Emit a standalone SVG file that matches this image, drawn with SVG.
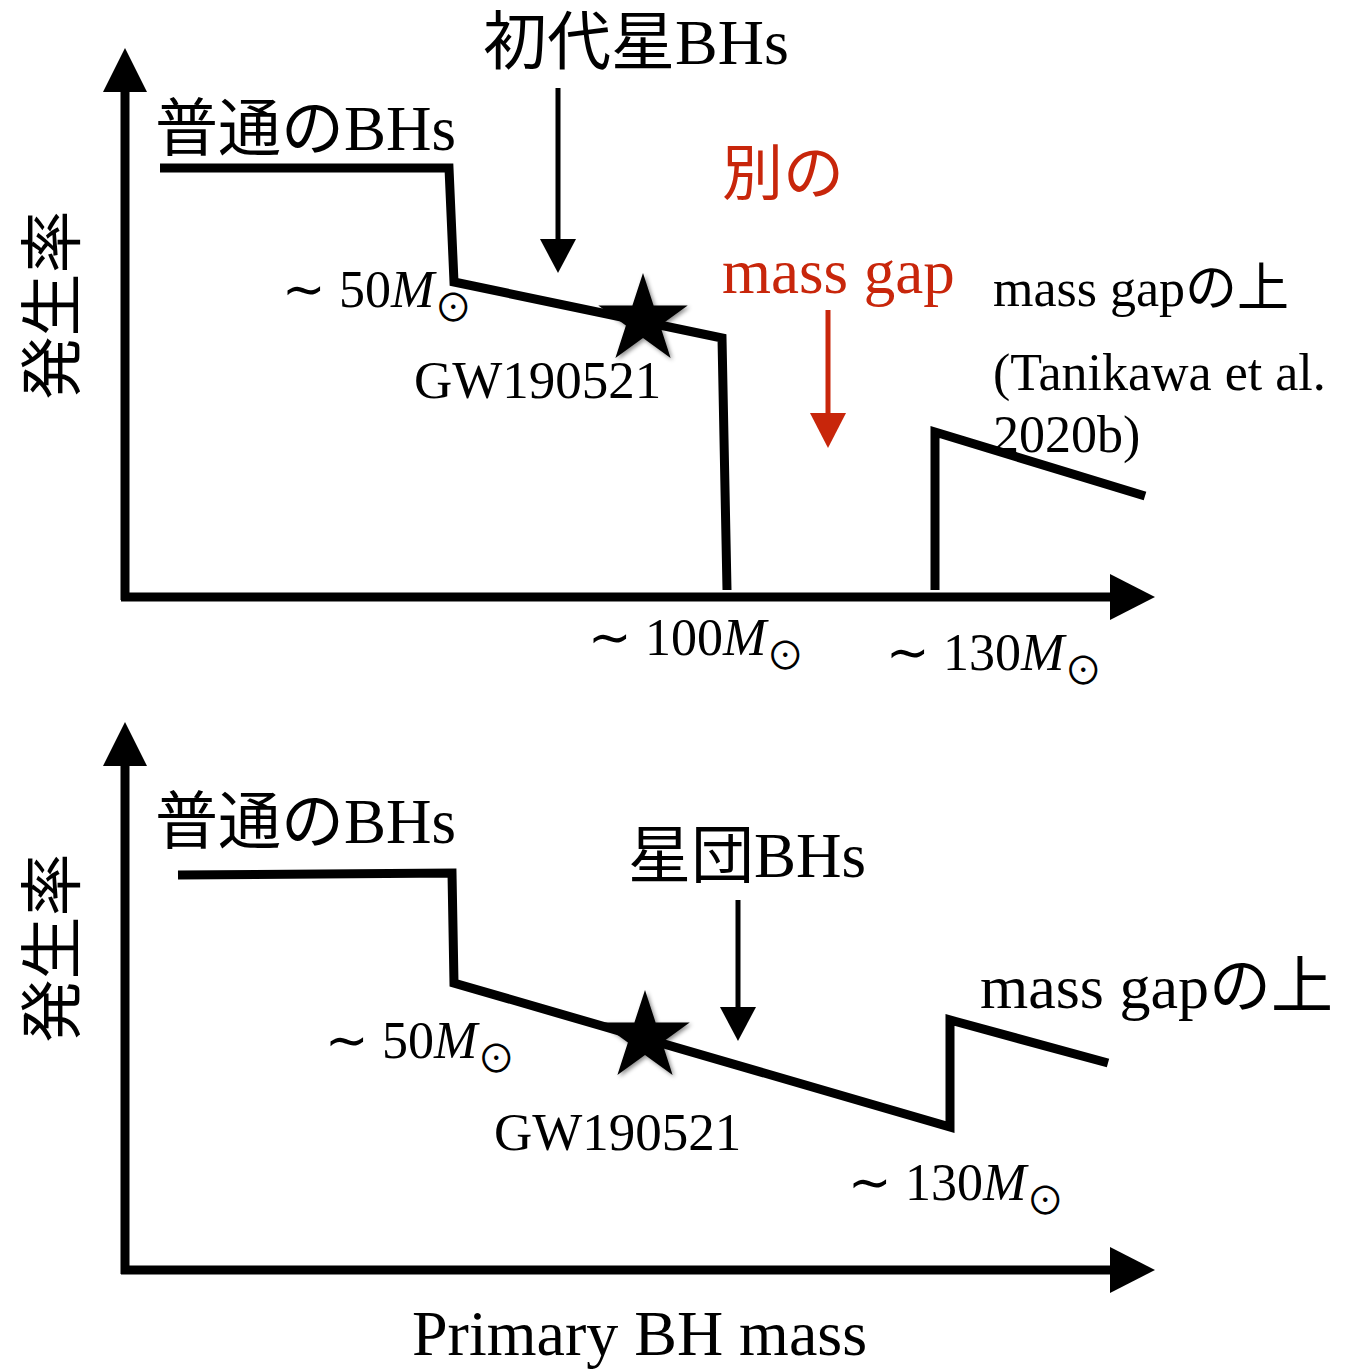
<svg xmlns="http://www.w3.org/2000/svg" width="1345" height="1370" viewBox="0 0 1345 1370">
  <defs>
    <style>
      text { font-family: "Liberation Serif", "Noto Sans CJK JP", serif; fill: #000; }
      .red { fill: #c8260b; }
      .axis { stroke: #000; stroke-width: 9; fill: none; }
      .curve { stroke: #000; stroke-width: 9; fill: none; stroke-linejoin: miter; stroke-miterlimit: 10; }
      .ptr { stroke: #000; stroke-width: 5; fill: none; }
      .ptr-red { stroke: #c8260b; stroke-width: 5; fill: none; }
      .head { fill: #000; }
      .head-red { fill: #c8260b; }
      .msun { font-size: 52px; }
      .sub { font-size: 38px; }
    </style>
    <filter id="shadow" x="-30%" y="-30%" width="160%" height="160%">
      <feDropShadow dx="2" dy="2" stdDeviation="2" flood-color="#000" flood-opacity="0.45"/>
    </filter>
    <path id="star" d="M0,-47 L10.6,-14.6 L44.7,-14.5 L17.1,5.6 L27.6,38 L0,18 L-27.6,38 L-17.1,5.6 L-44.7,-14.5 L-10.6,-14.6 Z"/>
  </defs>

  <!-- upper panel: axes -->
  <g id="axes-top">
    <line class="axis" x1="125" y1="600" x2="125" y2="88"/>
    <polygon class="head" points="125,48 103,92 147,92"/>
    <line class="axis" x1="121" y1="597" x2="1115" y2="597"/>
    <polygon class="head" points="1155,597 1110,574 1110,620"/>
  </g>

  <!-- upper panel: rate curves -->
  <g id="curves-top">
    <polyline class="curve" points="160,168 449,168 454,282 722,338 727,590"/>
    <polyline class="curve" points="935,590 935,432 1145,496"/>
  </g>

  <!-- upper panel: pointers -->
  <g id="connectors-top">
    <line class="ptr" x1="558" y1="88" x2="558" y2="242"/>
    <polygon class="head" points="558,273 540,239 576,239"/>
    <line class="ptr-red" x1="828" y1="310" x2="828" y2="416"/>
    <polygon class="head-red" points="828,448 810,413 846,413"/>
  </g>

  <g id="star-top">
    <use href="#star" transform="translate(643,320)" filter="url(#shadow)"/>
  </g>

  <!-- upper panel: labels -->
  <g id="labels-top">
    <text x="0" y="0" font-size="63" text-anchor="middle" transform="translate(74,305) rotate(-90)">発生率</text>
    <text x="483" y="64" font-size="64">初代星BHs</text>
    <text x="155" y="150" font-size="63">普通のBHs</text>
    <text x="282" y="307" class="msun">∼ 50<tspan font-style="italic">M</tspan><tspan class="sub" dy="14">⊙</tspan></text>
    <text x="414" y="398" font-size="53">GW190521</text>
    <text x="722" y="195" font-size="61" class="red">別の</text>
    <text x="722" y="293" font-size="63" class="red">mass gap</text>
    <text x="993" y="306" font-size="52">mass gapの上</text>
    <text x="993" y="390" font-size="52">(Tanikawa et al.</text>
    <text x="993" y="452" font-size="52">2020b)</text>
    <text x="588" y="655" class="msun">∼ 100<tspan font-style="italic">M</tspan><tspan class="sub" dy="14">⊙</tspan></text>
    <text x="886" y="670" class="msun">∼ 130<tspan font-style="italic">M</tspan><tspan class="sub" dy="14">⊙</tspan></text>
  </g>

  <!-- lower panel: axes -->
  <g id="axes-bottom">
    <line class="axis" x1="125" y1="1274" x2="125" y2="762"/>
    <polygon class="head" points="125,722 103,766 147,766"/>
    <line class="axis" x1="121" y1="1270" x2="1115" y2="1270"/>
    <polygon class="head" points="1155,1270 1110,1247 1110,1293"/>
  </g>

  <!-- lower panel: rate curve -->
  <g id="curves-bottom">
    <polyline class="curve" points="178,875 452,873 454,983 950,1127 950,1020 1108,1063"/>
  </g>

  <g id="connectors-bottom">
    <line class="ptr" x1="738" y1="900" x2="738" y2="1010"/>
    <polygon class="head" points="738,1041 720,1007 756,1007"/>
  </g>

  <g id="star-bottom">
    <use href="#star" transform="translate(645,1037)" filter="url(#shadow)"/>
  </g>

  <!-- lower panel: labels -->
  <g id="labels-bottom">
    <text x="0" y="0" font-size="63" text-anchor="middle" transform="translate(74,948) rotate(-90)">発生率</text>
    <text x="155" y="843" font-size="63">普通のBHs</text>
    <text x="628" y="877" font-size="63">星団BHs</text>
    <text x="325" y="1058" class="msun">∼ 50<tspan font-style="italic">M</tspan><tspan class="sub" dy="14">⊙</tspan></text>
    <text x="494" y="1150" font-size="53">GW190521</text>
    <text x="980" y="1008" font-size="62">mass gapの上</text>
    <text x="848" y="1200" class="msun">∼ 130<tspan font-style="italic">M</tspan><tspan class="sub" dy="14">⊙</tspan></text>
    <text x="412" y="1355" font-size="64">Primary BH mass</text>
  </g>
</svg>
